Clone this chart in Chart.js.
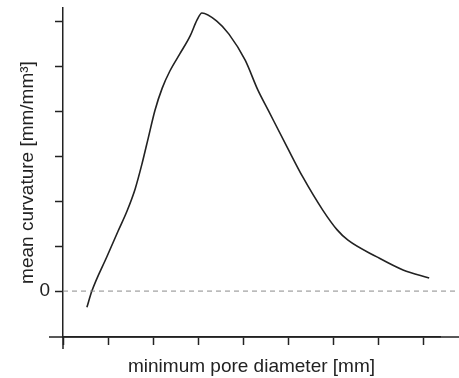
<!DOCTYPE html>
<html>
<head>
<meta charset="utf-8">
<script src="https://cdn.jsdelivr.net/npm/chart.js@4.4.1/dist/chart.umd.min.js"></script>
<style>
  html, body { margin: 0; padding: 0; background: #fff; }
  #wrap { width: 459px; height: 378px; }
</style>
</head>
<body>
<div id="wrap"><canvas id="curveChart"></canvas></div>
<script>
// Mean curvature vs. minimum pore diameter
const diameter = [0.53, 0.64, 0.98, 1.22, 1.42, 1.60, 1.75, 1.89, 2.04, 2.20, 2.37, 2.59, 2.82, 2.97, 3.08, 3.41, 3.68, 4.04, 4.32, 4.55, 4.97, 5.32, 5.76, 6.08, 6.32, 6.96, 7.54, 8.12];
const curvature = [-0.36, 0, 0.78, 1.33, 1.78, 2.27, 2.82, 3.40, 4.02, 4.51, 4.89, 5.27, 5.67, 6.02, 6.18, 6.00, 5.71, 5.13, 4.47, 4.02, 3.20, 2.53, 1.80, 1.36, 1.13, 0.76, 0.47, 0.29];
const xTickValues = [0, 1, 2, 3, 4, 5, 6, 7, 8];
const yTickValues = [0, 1, 2, 3, 4, 5, 6];
const zeroLineX = [0, 8.78];

const font = { family: '"Liberation Sans", Arial, sans-serif', size: 19 };
const ink = '#222';

// little axis stubs past the plot corner, like the original figure
const axisStubs = {
  id: 'axisStubs',
  afterDraw(chart) {
    const { ctx, chartArea } = chart;
    ctx.save();
    ctx.strokeStyle = ink;
    ctx.lineWidth = 1.5;
    ctx.beginPath();
    ctx.moveTo(chartArea.left - 14, chartArea.bottom);
    ctx.lineTo(chart.width, chartArea.bottom);
    ctx.moveTo(chartArea.left, chartArea.bottom);
    ctx.lineTo(chartArea.left, chartArea.bottom + 12);
    ctx.stroke();
    ctx.restore();
  }
};

const ctx = document.getElementById('curveChart').getContext('2d');
const chart = new Chart(ctx, {
  type: 'scatter',
  data: {
    datasets: [{
      data: zeroLineX.map(x => ({ x: x, y: 0 })),
      showLine: true,
      borderColor: '#8a8a8a',
      borderWidth: 1,
      borderDash: [5, 4],
      pointRadius: 0,
      clip: false
    }, {
      data: diameter.map((x, i) => ({ x: x, y: curvature[i] })),
      showLine: true,
      borderColor: ink,
      borderWidth: 1.6,
      cubicInterpolationMode: 'monotone',
      pointRadius: 0
    }]
  },
  options: {
    responsive: true,
    maintainAspectRatio: false,
    animation: false,
    layout: { padding: { top: 8, right: 19, left: 0, bottom: 0 } },
    plugins: { legend: { display: false }, tooltip: { enabled: false } },
    scales: {
      x: {
        type: 'linear',
        min: 0,
        max: 8.36,
        afterBuildTicks: axis => { axis.ticks = xTickValues.map(v => ({ value: v })); },
        afterFit: axis => { axis.height = 41; axis.paddingLeft = 0; axis.paddingRight = 0; },
        grid: { drawOnChartArea: false, tickLength: 8, tickColor: ink, tickWidth: 1.5 },
        border: { color: ink, width: 1.5 },
        ticks: { display: false },
        title: {
          display: true,
          text: 'minimum pore diameter [mm]',
          color: ink,
          font: font,
          padding: { top: 0, bottom: 0 }
        }
      },
      y: {
        type: 'linear',
        min: -1.02,
        max: 6.29,
        afterBuildTicks: axis => { axis.ticks = yTickValues.map(v => ({ value: v })); },
        afterFit: axis => { axis.width = 63; axis.paddingTop = 0; axis.paddingBottom = 0; },
        grid: { drawOnChartArea: false, tickLength: 8, tickColor: ink, tickWidth: 1.5 },
        border: { color: ink, width: 1.5 },
        ticks: {
          color: ink,
          font: font,
          padding: 5,
          callback: v => (v === 0 ? '0' : '')
        },
        title: {
          display: true,
          text: 'mean curvature [mm/mm³]',
          color: ink,
          font: font,
          padding: { top: 16, bottom: 0 }
        }
      }
    }
  },
  plugins: [axisStubs]
});
</script>
</body>
</html>
